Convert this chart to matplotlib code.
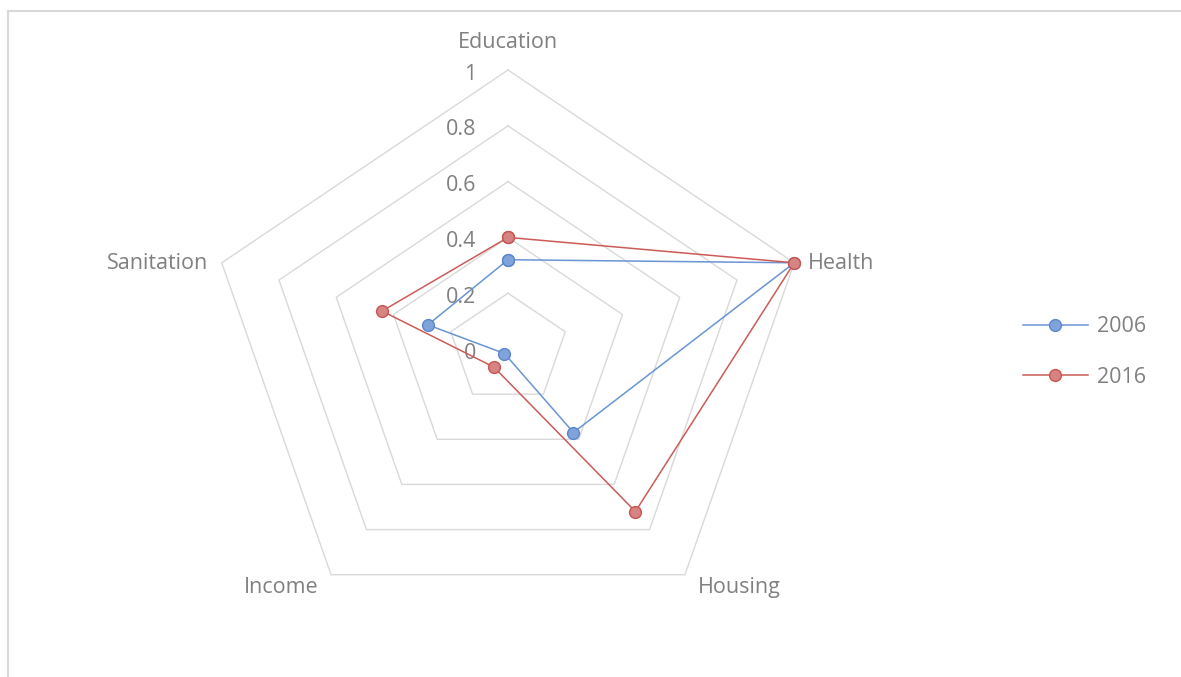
import numpy as np
import matplotlib
matplotlib.use("Agg")
import matplotlib.pyplot as plt
from matplotlib.lines import Line2D

categories = ["Education", "Health", "Housing", "Income", "Sanitation"]
series_names = ["2006", "2016"]
values_2006 = [0.32, 1.0, 0.37, 0.02, 0.28]
values_2016 = [0.40, 1.0, 0.72, 0.08, 0.44]
ring_levels = [0.2, 0.4, 0.6, 0.8, 1.0]
tick_labels = ["0", "0.2", "0.4", "0.6", "0.8", "1"]

plt.rcParams['font.family'] = ['Open Sans', 'DejaVu Sans']
W, H = 1181, 677
fig = plt.figure(figsize=(W / 100, H / 100), dpi=100)

# chart frame
fig.add_artist(Line2D([8 / W, 1.01], [1 - 11 / H, 1 - 11 / H], color='#D9D9D9', lw=1.5, transform=fig.transFigure))
fig.add_artist(Line2D([8 / W, 8 / W], [1 - 11 / H, -0.01], color='#D9D9D9', lw=1.5, transform=fig.transFigure))

cx, cy = 508, 349
rx, ry = 301, 279
ext = 1.2
ax = fig.add_axes([(cx - ext * rx) / W, (H - cy - ext * ry) / H, 2 * ext * rx / W, 2 * ext * ry / H])
ax.set_xlim(-ext, ext)
ax.set_ylim(-ext, ext)
ax.axis('off')

n = len(categories)
ang = np.pi / 2 - 2 * np.pi * np.arange(n) / n
ux, uy = np.cos(ang), np.sin(ang)

def closed(v):
    v = np.asarray(v, dtype=float)
    return np.append(v * ux, v[0] * ux[0]), np.append(v * uy, v[0] * uy[0])

for lv in ring_levels:
    xs, ys = closed([lv] * n)
    ax.plot(xs, ys, color='#D9D9D9', lw=1.0, zorder=1)

FS = 15.5
TC = '#808080'
tick_vals = [0.0] + ring_levels
for tv, tl in zip(tick_vals, tick_labels):
    ax.text(-32 / rx, tv - 4 / ry, tl, ha='right', va='center', fontsize=FS, color=TC)

styles = [
    dict(color='#6A94D4', mfc='#7FA3DA', mec='#5A87CC'),
    dict(color='#CC5B58', mfc='#D68483', mec='#C65450'),
]
for name, vals, st in zip(series_names, [values_2006, values_2016], styles):
    xs, ys = closed(vals)
    ax.plot(xs, ys, color=st['color'], lw=1.1, marker='o', ms=8.5,
            mfc=st['mfc'], mec=st['mec'], mew=1.0, label=name, zorder=3)

lab_kw = dict(fontsize=FS, color=TC)
ax.text(0, 1 + 28 / ry, categories[0], ha='center', va='center', **lab_kw)
ax.text(ux[1] + 14 / rx, uy[1] - 1 / ry, categories[1], ha='left', va='center', **lab_kw)
ax.text(ux[2] + 54 / rx, uy[2] - 13 / ry, categories[2], ha='center', va='center', **lab_kw)
ax.text(ux[3] - 50 / rx, uy[3] - 13 / ry, categories[3], ha='center', va='center', **lab_kw)
ax.text(ux[4] - 14 / rx, uy[4] - 1 / ry, categories[4], ha='right', va='center', **lab_kw)

leg = fig.legend(loc='center left', bbox_to_anchor=(1023 / W, 1 - 352 / H), frameon=False,
                 fontsize=FS, labelcolor=TC, handlelength=3.0, labelspacing=1.35,
                 handletextpad=0.42, borderpad=0, borderaxespad=0)

fig.savefig('out.png', dpi=100)
